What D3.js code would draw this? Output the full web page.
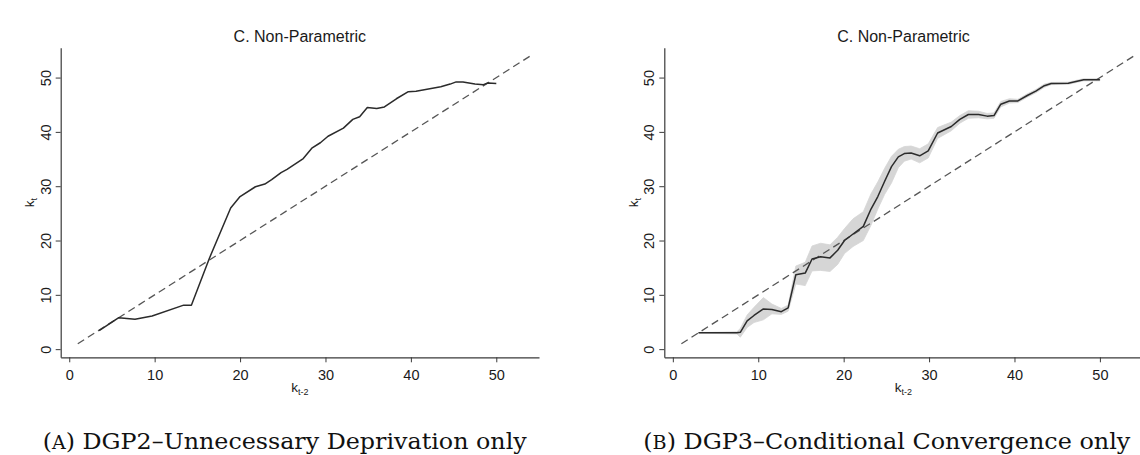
<!DOCTYPE html>
<html>
<head>
<meta charset="utf-8">
<script src="https://cdn.jsdelivr.net/npm/d3@7"></script>
<style>
  html, body { margin: 0; padding: 0; background: #fff; }
  svg { display: block; }
</style>
</head>
<body>
<svg id="chart" width="1140" height="455"></svg>
<script>
// ---------- data ----------
const tickValues = [0, 10, 20, 30, 40, 50];
const panelTitle = "C. Non-Parametric";
const diagonal = [1, 54];

// Panel A: DGP2 – Unnecessary Deprivation only
const leftX = [3.5, 5.8, 7.7, 9.7, 13.4, 14.3, 16.4, 18.9, 20.0, 21.8, 22.9, 23.7, 24.8, 25.5, 27.4, 28.4, 29.4, 30.3, 32.1, 33.2, 34.0, 34.9, 36.0, 36.9, 38.3, 39.7, 40.6, 43.5, 44.6, 45.3, 46.1, 47.5, 48.5, 49.0, 50.0];
const leftY = [3.4, 5.8, 5.5, 6.1, 8.1, 8.1, 16.7, 26.0, 28.1, 29.9, 30.4, 31.2, 32.5, 33.1, 35.1, 37.0, 38.0, 39.2, 40.7, 42.3, 42.8, 44.5, 44.3, 44.6, 46.1, 47.4, 47.5, 48.3, 48.8, 49.2, 49.2, 48.8, 48.7, 49.0, 48.9];

// Panel B: DGP3 – Conditional Convergence only (estimate + confidence band)
const rightX  = [3.0, 7.5, 7.9, 8.7, 9.5, 10.6, 11.6, 12.7, 13.5, 14.4, 15.5, 16.3, 17.3, 18.4, 19.3, 20.1, 21.1, 22.3, 23.2, 24.0, 24.8, 25.6, 26.4, 27.1, 27.9, 28.9, 29.9, 31.0, 32.6, 33.6, 34.6, 35.8, 36.8, 37.6, 38.4, 39.4, 40.4, 41.5, 42.5, 43.5, 44.3, 46.3, 48.1, 50.0];
const rightY  = [3.0, 3.0, 3.1, 5.2, 6.2, 7.4, 7.3, 6.9, 7.6, 13.7, 14.0, 16.6, 17.0, 16.8, 18.2, 20.0, 21.2, 22.6, 25.8, 28.1, 30.9, 33.6, 35.4, 36.0, 36.1, 35.6, 36.5, 39.8, 41.0, 42.3, 43.2, 43.2, 42.9, 43.0, 45.1, 45.7, 45.7, 46.7, 47.5, 48.5, 48.9, 48.95, 49.6, 49.6];
const rightLo = [2.95, 2.8, 2.2, 4.0, 4.9, 5.4, 6.5, 6.4, 7.0, 12.0, 11.7, 14.4, 14.5, 14.3, 15.6, 17.6, 18.9, 20.0, 22.8, 25.8, 28.5, 30.6, 33.4, 34.6, 35.0, 34.3, 35.2, 38.8, 40.2, 41.6, 42.5, 42.6, 42.4, 42.5, 44.6, 45.3, 45.4, 46.4, 47.2, 48.2, 48.7, 48.75, 49.4, 49.4];
const rightHi = [3.05, 3.2, 3.8, 6.3, 7.7, 9.5, 8.3, 7.5, 8.1, 15.3, 16.0, 19.0, 19.5, 19.2, 20.6, 22.2, 24.0, 25.3, 28.6, 30.8, 33.3, 35.5, 36.8, 37.3, 37.4, 36.9, 37.8, 40.8, 41.8, 43.0, 43.9, 43.8, 43.4, 43.5, 45.6, 46.1, 46.0, 47.0, 47.8, 48.8, 49.1, 49.15, 49.8, 49.8];

const captions = [
  { sc: "A", rest: " DGP2\u2013Unnecessary Deprivation only" },
  { sc: "B", rest: " DGP3\u2013Conditional Convergence only" }
];

// ---------- drawing ----------
const svg = d3.select("#chart");
svg.append("rect").attr("width", 1140).attr("height", 455).attr("fill", "#fff");

const AXIS = "#3a3a3a", TXT = "#1a1a1a";

function panel(left, opts) {
  const x = d3.scaleLinear().domain([-1, 55]).range([left, left + 478.3]);
  const y = d3.scaleLinear().domain([-1.5, 55.5]).range([357.3, 47.7]);
  const g = svg.append("g");

  // band
  if (opts.lo) {
    const band = d3.area()
      .x((d, i) => x(opts.xs[i]))
      .y0((d, i) => y(opts.lo[i]))
      .y1((d, i) => y(opts.hi[i]));
    g.append("path").datum(opts.xs).attr("d", band)
      .attr("fill", "#d6d6d6").attr("stroke", "#d6d6d6").attr("stroke-width", 0.8);
  }

  // 45-degree line
  g.append("line")
    .attr("x1", x(diagonal[0])).attr("y1", y(diagonal[0]))
    .attr("x2", x(diagonal[1])).attr("y2", y(diagonal[1]))
    .attr("stroke", "#555").attr("stroke-width", 1.3)
    .attr("stroke-dasharray", "7.5,4.5");

  // estimate line
  const line = d3.line().x((d, i) => x(opts.xs[i])).y((d, i) => y(opts.ys[i]));
  g.append("path").datum(opts.xs).attr("d", line)
    .attr("fill", "none").attr("stroke", "#2b2b2b").attr("stroke-width", 1.5)
    .attr("stroke-linejoin", "round");

  // x axis
  const xa = g.append("g").attr("transform", "translate(0,357.3)")
    .call(d3.axisBottom(x).tickValues(tickValues).tickSize(5).tickSizeOuter(0).tickPadding(7));
  xa.select(".domain").attr("stroke", AXIS).attr("stroke-width", 1.2);
  xa.selectAll(".tick line").attr("stroke", AXIS);
  xa.selectAll("text").attr("font-family", "Liberation Sans, Arial, sans-serif")
    .attr("font-size", 14.5).attr("fill", TXT);

  // y axis
  const ya = g.append("g").attr("transform", `translate(${left},0)`)
    .call(d3.axisLeft(y).tickValues(tickValues).tickSize(5).tickSizeOuter(0));
  ya.select(".domain").attr("stroke", AXIS).attr("stroke-width", 1.2);
  ya.selectAll(".tick line").attr("stroke", AXIS);
  ya.selectAll("text")
    .attr("font-family", "Liberation Sans, Arial, sans-serif")
    .attr("font-size", 14.5).attr("fill", TXT)
    .attr("x", 0).attr("y", 0).attr("dy", "0.35em")
    .attr("text-anchor", "middle")
    .attr("transform", "translate(-15,0) rotate(-90)");

  const cx = (x.range()[0] + x.range()[1]) / 2;

  // title
  g.append("text").attr("x", cx).attr("y", 42.3)
    .attr("text-anchor", "middle")
    .attr("font-family", "Liberation Sans, Arial, sans-serif")
    .attr("font-size", 16).attr("fill", TXT).text(panelTitle);

  // x title k_{t-2}
  const xt = g.append("text").attr("x", cx).attr("y", 392)
    .attr("text-anchor", "middle")
    .attr("font-family", "Liberation Sans, Arial, sans-serif")
    .attr("font-size", 13.5).attr("fill", TXT);
  xt.append("tspan").text("k");
  xt.append("tspan").attr("font-size", 9).attr("dy", 3).text("t-2");

  // y title k_t
  const yt = g.append("text")
    .attr("transform", `translate(${left - 26.5},${(y.range()[0] + y.range()[1]) / 2}) rotate(-90)`)
    .attr("text-anchor", "middle")
    .attr("font-family", "Liberation Sans, Arial, sans-serif")
    .attr("font-size", 13.5).attr("fill", TXT);
  yt.append("tspan").text("k");
  yt.append("tspan").attr("font-size", 9).attr("dy", 3).text("t");

  // caption
  const cap = svg.append("text").attr("x", opts.capX).attr("y", 449)
    .attr("font-family", "DejaVu Serif, serif")
    .attr("font-size", 22.5).attr("fill", "#111")
    .attr("textLength", opts.capW).attr("lengthAdjust", "spacingAndGlyphs");
  cap.append("tspan").text("(");
  cap.append("tspan").attr("font-size", 18).text(opts.caption.sc);
  cap.append("tspan").text(")" + opts.caption.rest);
}

panel(60.7, { xs: leftX, ys: leftY, caption: captions[0], capX: 42.7, capW: 484 });
panel(664.3, { xs: rightX, ys: rightY, lo: rightLo, hi: rightHi, caption: captions[1], capX: 643.3, capW: 487 });
</script>
</body>
</html>
